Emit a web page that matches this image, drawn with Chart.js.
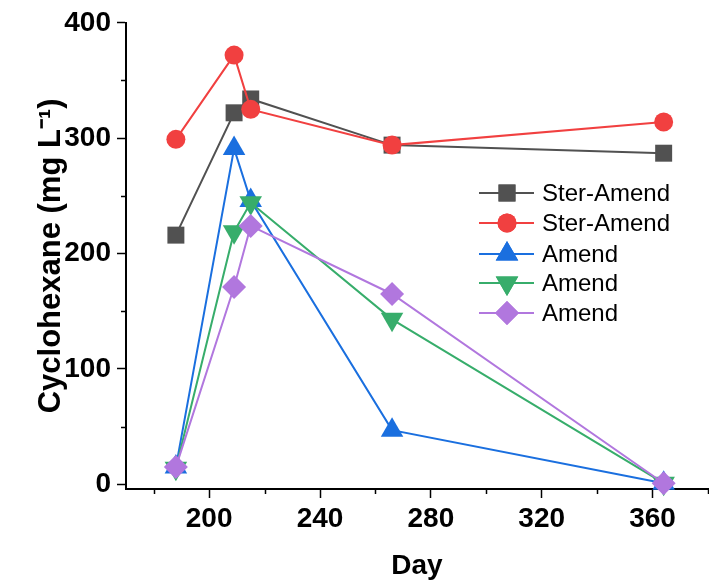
<!DOCTYPE html>
<html>
<head>
<meta charset="utf-8">
<script src="https://cdn.jsdelivr.net/npm/chart.js@4.4.1/dist/chart.umd.min.js"></script>
<style>
  html, body { margin: 0; padding: 0; background: #fff; }
  #wrap { width: 709px; height: 587px; position: relative; }
</style>
</head>
<body>
<div id="wrap"><canvas id="chart"></canvas></div>
<script>
// data
const days = [188, 209, 215, 266, 364];
const seriesNames = ["Ster-Amend", "Ster-Amend", "Amend", "Amend", "Amend"];
const sterAmendSquare = [216, 322, 334, 294, 287];
const sterAmendCircle = [299, 372, 325, 294, 314];
const amendUp = [15, 291, 246, 47, 1];
const amendDown = [14, 219, 244, 143, 1];
const amendDiamond = [15, 171, 224, 165, 1];
const yTicks = [0, 100, 200, 300, 400];
const xTicks = [200, 240, 280, 320, 360];
const yMinor = [50, 150, 250, 350];
const xMinor = [180, 220, 260, 300, 340, 380];

const FONT = 'Arial, "Liberation Sans", sans-serif';

function pts(ys) {
  return days.map((d, i) => ({ x: d, y: ys[i] }));
}

const styles = [
  { color: "#515151", pointStyle: "rect", radius: 12, rotation: 0 },
  { color: "#F14040", pointStyle: "circle", radius: 9.5, rotation: 0 },
  { color: "#1A6FDF", pointStyle: "triangle", radius: 13, rotation: 0 },
  { color: "#37AD6B", pointStyle: "triangle", radius: 13, rotation: 180 },
  { color: "#B177DE", pointStyle: "rectRot", radius: 12, rotation: 0 },
];
const allSeries = [sterAmendSquare, sterAmendCircle, amendUp, amendDown, amendDiamond];

const datasets = allSeries.map((ys, i) => ({
  label: seriesNames[i],
  data: pts(ys),
  borderColor: styles[i].color,
  backgroundColor: styles[i].color,
  borderWidth: 2,
  pointStyle: styles[i].pointStyle,
  pointRadius: styles[i].radius,
  pointRotation: styles[i].rotation,
  pointBorderWidth: 0,
  pointBackgroundColor: styles[i].color,
  clip: false,
  order: allSeries.length - i, // later series drawn on top
}));

// minor ticks drawn from the scales
const minorTicks = {
  id: "minorTicks",
  afterDraw(chart) {
    const ctx = chart.ctx;
    const xs = chart.scales.x, ys = chart.scales.y;
    ctx.save();
    ctx.strokeStyle = "#000";
    ctx.lineWidth = 1.5;
    ctx.beginPath();
    yMinor.forEach(v => {
      const p = Math.round(ys.getPixelForValue(v)) + 0.5;
      ctx.moveTo(xs.left, p);
      ctx.lineTo(xs.left - 5, p);
    });
    xMinor.forEach(v => {
      const p = Math.round(xs.getPixelForValue(v)) + 0.5;
      ctx.moveTo(p, ys.bottom);
      ctx.lineTo(p, ys.bottom + 5);
    });
    ctx.stroke();
    ctx.restore();
  }
};

// legend with line + marker samples, inside the plot
const lineLegend = {
  id: "lineLegend",
  afterDraw(chart) {
    const ctx = chart.ctx;
    const x0 = 479, x1 = 534, xm = 507, xt = 542;
    const rows = [193, 223, 254, 283, 313];
    ctx.save();
    chart.data.datasets.forEach((ds, i) => {
      const y = rows[i];
      ctx.strokeStyle = ds.borderColor;
      ctx.lineWidth = 2;
      ctx.beginPath();
      ctx.moveTo(x0, y);
      ctx.lineTo(x1, y);
      ctx.stroke();
      ctx.fillStyle = ds.borderColor;
      Chart.helpers.drawPoint(ctx, {
        pointStyle: ds.pointStyle,
        rotation: ds.pointRotation,
        radius: ds.pointRadius,
        borderWidth: 0
      }, xm, y);
      ctx.fill();
      ctx.fillStyle = "#000";
      ctx.font = "24px " + FONT;
      ctx.textBaseline = "middle";
      ctx.fillText(ds.label, xt, y + 1);
    });
    ctx.restore();
  }
};

const ctx = document.getElementById("chart").getContext("2d");
new Chart(ctx, {
  type: "line",
  data: { datasets: datasets },
  plugins: [minorTicks, lineLegend],
  options: {
    responsive: true,
    maintainAspectRatio: false,
    animation: false,
    layout: { autoPadding: false, padding: { top: 20, right: 1, left: 0, bottom: 0 } },
    plugins: {
      legend: { display: false },
      tooltip: { enabled: false },
    },
    scales: {
      x: {
        type: "linear",
        min: 170,
        max: 380,
        afterBuildTicks: (scale) => { scale.ticks = xTicks.map(v => ({ value: v })); },
        afterFit: (scale) => { scale.height = 98; scale.paddingLeft = 0; scale.paddingRight = 0; },
        border: { display: true, color: "#000", width: 2 },
        grid: { drawOnChartArea: false, drawTicks: true, tickLength: 9, tickColor: "#000", tickWidth: 1.5 },
        ticks: {
          color: "#000",
          padding: 4,
          maxRotation: 0,
          font: { family: FONT, size: 28, weight: "bold" },
        },
        title: {
          display: true,
          text: "Day",
          color: "#000",
          padding: { top: 0, bottom: 4 },
          font: { family: FONT, size: 28, weight: "bold" },
        },
      },
      y: {
        type: "linear",
        min: -4,
        max: 400,
        afterBuildTicks: (scale) => { scale.ticks = yTicks.map(v => ({ value: v })); },
        afterFit: (scale) => { scale.width = 126; },
        border: { display: true, color: "#000", width: 2 },
        grid: { drawOnChartArea: false, drawTicks: true, tickLength: 9, tickColor: "#000", tickWidth: 1.5 },
        ticks: {
          color: "#000",
          padding: 6,
          font: { family: FONT, size: 28, weight: "bold" },
        },
        title: {
          display: true,
          text: "Cyclohexane (mg L\u207B\u00B9)",
          color: "#000",
          padding: { top: 33, bottom: 0 },
          font: { family: FONT, size: 31, weight: "bold" },
        },
      },
    },
  },
});
</script>
</body>
</html>
